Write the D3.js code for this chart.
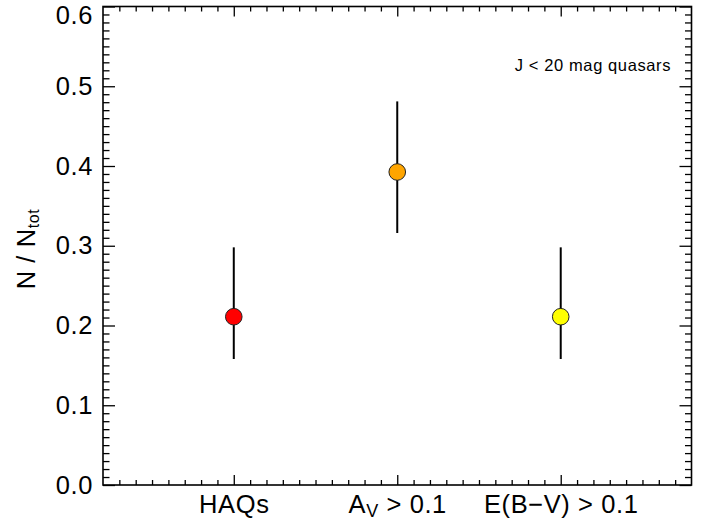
<!DOCTYPE html>
<html>
<head>
<meta charset="utf-8">
<script src="https://cdn.jsdelivr.net/npm/d3@7"></script>
<style>
  body { margin: 0; background: #fff; }
  svg text { font-family: "Liberation Sans", Arial, Helvetica, sans-serif; fill: #000; }
</style>
</head>
<body>
<div id="chart"></div>
<script>
// data
var categories = ['HAQs', 'A_{V} > 0.1', 'E(B\u2212V) > 0.1'];
var catPos = [1, 2, 3];
var fraction = [0.211, 0.3925, 0.211];
var errLow = [0.158, 0.316, 0.158];
var errHigh = [0.298, 0.481, 0.298];
var dotColors = ['#ff0000', '#ffa500', '#ffff00'];
var yTicks = [0.0, 0.1, 0.2, 0.3, 0.4, 0.5, 0.6];
var note = 'J < 20 mag quasars';

var W = 711, H = 526;
var plot = {left: 103, right: 691.5, top: 6.5, bottom: 485};

var svg = d3.select('#chart').append('svg')
    .attr('width', W)
    .attr('height', H);

var x = d3.scaleLinear().domain([0.2, 3.8]).range([plot.left, plot.right]);
var y = d3.scaleLinear().domain([0, 0.6]).range([plot.bottom, plot.top]);

// turn "A_{V}" into tspans with a subscript
function writeLabel(sel, str, subSize) {
    sel.text(null);
    var parts = str.split(/_\{(.*?)\}/);
    parts.forEach(function(p, i) {
        if (p === '') return;
        var t = sel.append('tspan').text(p);
        if (i % 2 == 1) {
            t.style('font-size', subSize + 'px').attr('baseline-shift', '-4');
        }
    });
}

var xMinor = d3.range(3, 38).map(function(d) { return d / 10; }).filter(function(d) { return catPos.indexOf(d) < 0; });
var yMinor = d3.range(0, 61).map(function(d) { return d / 100; }).filter(function(d) { return d * 10 % 1 > 0.01 && d * 10 % 1 < 0.99; });

function tickAxis(sel, axis) {
    sel.call(axis);
    sel.select('.domain').remove();
    sel.selectAll('line').attr('stroke', '#000').attr('stroke-width', 1.3);
}

// bottom axis
var gB = svg.append('g').attr('transform', 'translate(0,' + plot.bottom + ')');
tickAxis(gB, d3.axisBottom(x).tickValues(catPos).tickSize(-10).tickPadding(10)
    .tickFormat(function(d, i) { return categories[i]; }));
gB.selectAll('text')
    .style('font-size', '25.5px')
    .style('letter-spacing', '0.6px')
    .each(function(d, i) { writeLabel(d3.select(this), categories[i], 18); });
tickAxis(svg.append('g').attr('transform', 'translate(0,' + plot.bottom + ')'),
    d3.axisBottom(x).tickValues(xMinor).tickSize(-5).tickFormat(''));

// top axis
tickAxis(svg.append('g').attr('transform', 'translate(0,' + plot.top + ')'),
    d3.axisTop(x).tickValues(catPos).tickSize(-10).tickFormat(''));
tickAxis(svg.append('g').attr('transform', 'translate(0,' + plot.top + ')'),
    d3.axisTop(x).tickValues(xMinor).tickSize(-5).tickFormat(''));

// left axis
var gL = svg.append('g').attr('transform', 'translate(' + plot.left + ',0)');
tickAxis(gL, d3.axisLeft(y).tickValues(yTicks).tickSize(-12).tickPadding(10).tickFormat(d3.format('.1f')));
gL.selectAll('text')
    .style('font-size', '25.5px')
    .style('letter-spacing', '0.6px')
    .filter(function(d) { return d == 0.6; })
    .attr('dy', '0.68em');
tickAxis(svg.append('g').attr('transform', 'translate(' + plot.left + ',0)'),
    d3.axisLeft(y).tickValues(yMinor).tickSize(-6.5).tickFormat(''));

// right axis
tickAxis(svg.append('g').attr('transform', 'translate(' + plot.right + ',0)'),
    d3.axisRight(y).tickValues(yTicks).tickSize(-12).tickFormat(''));
tickAxis(svg.append('g').attr('transform', 'translate(' + plot.right + ',0)'),
    d3.axisRight(y).tickValues(yMinor).tickSize(-6.5).tickFormat(''));

// frame
svg.append('rect')
    .attr('x', plot.left).attr('y', plot.top)
    .attr('width', plot.right - plot.left)
    .attr('height', plot.bottom - plot.top)
    .attr('fill', 'none')
    .attr('stroke', '#000')
    .attr('stroke-width', 1.6);

// error bars
svg.selectAll('.err').data(catPos).enter().append('line')
    .attr('class', 'err')
    .attr('x1', function(d) { return x(d); })
    .attr('x2', function(d) { return x(d); })
    .attr('y1', function(d, i) { return y(errLow[i]); })
    .attr('y2', function(d, i) { return y(errHigh[i]); })
    .attr('stroke', '#000')
    .attr('stroke-width', 2);

// points
svg.selectAll('.dot').data(catPos).enter().append('circle')
    .attr('class', 'dot')
    .attr('cx', function(d) { return x(d); })
    .attr('cy', function(d, i) { return y(fraction[i]); })
    .attr('r', 8.3)
    .attr('fill', function(d, i) { return dotColors[i]; })
    .attr('stroke', '#222')
    .attr('stroke-width', 1);

// y label
var yl = svg.append('text')
    .attr('transform', 'translate(35,249) rotate(-90)')
    .attr('text-anchor', 'middle')
    .style('font-size', '25.5px')
    .style('letter-spacing', '0.6px');
writeLabel(yl, 'N / N_{tot}', 16);

// annotation
svg.append('text')
    .attr('x', 671).attr('y', 71)
    .attr('text-anchor', 'end')
    .style('font-size', '16.5px')
    .style('letter-spacing', '0.6px')
    .text(note);
</script>
</body>
</html>
